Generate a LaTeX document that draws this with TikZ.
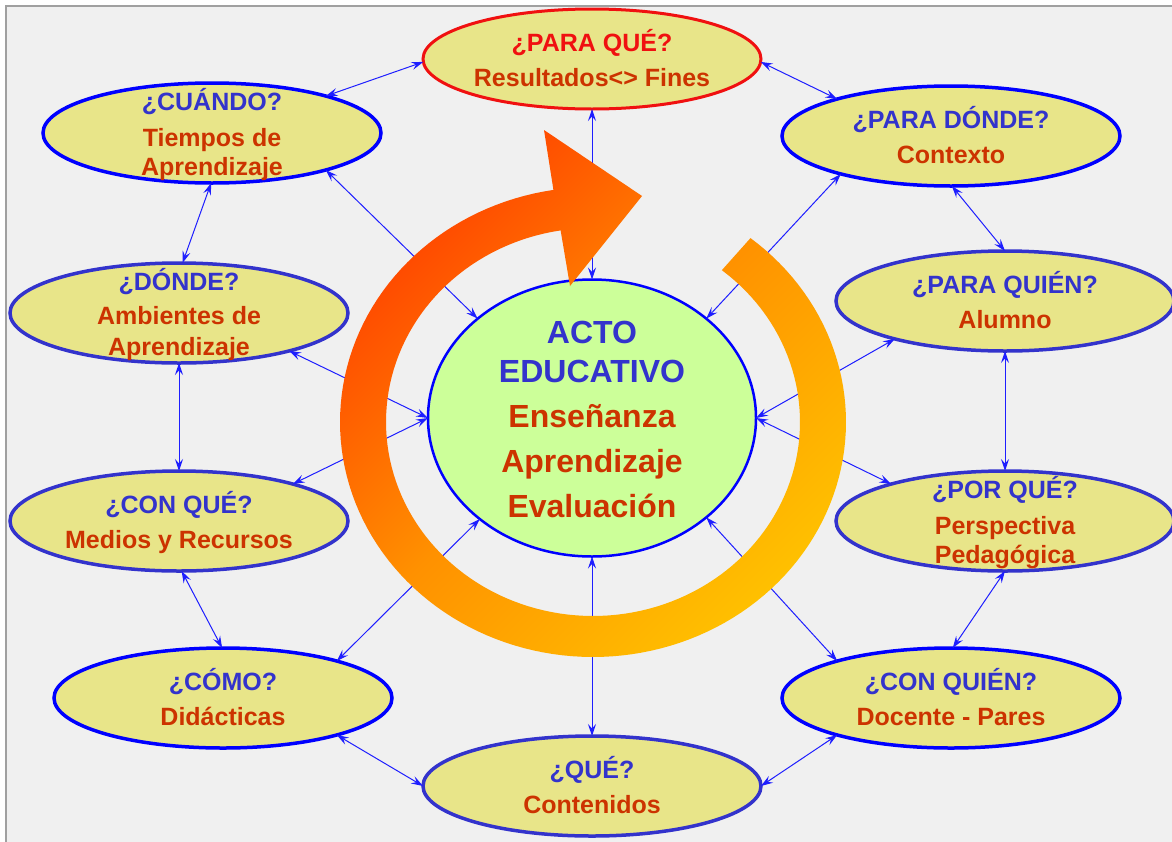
\documentclass[tikz,border=0pt]{standalone}
\usepackage{fontspec}
\setmainfont{Liberation Sans}
\usetikzlibrary{shapes.geometric,arrows.meta}
\definecolor{bgc}{RGB}{240,240,240}
\definecolor{framec}{RGB}{160,160,160}
\definecolor{qcol}{RGB}{51,51,204}
\definecolor{acol}{RGB}{204,51,0}
\definecolor{redq}{RGB}{240,16,16}
\definecolor{bfill}{RGB}{232,229,137}
\definecolor{cfill}{RGB}{204,255,153}
\definecolor{bb}{RGB}{0,0,255}
\definecolor{bp}{RGB}{51,51,204}
\definecolor{linkc}{RGB}{30,30,255}
\definecolor{ra}{RGB}{255,10,0}
\definecolor{rb}{RGB}{255,69,0}
\definecolor{rc}{RGB}{255,100,0}
\definecolor{rd}{RGB}{255,145,0}
\definecolor{re}{RGB}{255,182,0}
\definecolor{rf}{RGB}{255,200,0}
\definecolor{rg}{RGB}{255,215,0}
\pgfdeclarehorizontalshading{ringsh}{100bp}{color(0bp)=(ra); color(26bp)=(rb); color(36bp)=(rc); color(50bp)=(rd); color(70bp)=(re); color(80bp)=(rf); color(100bp)=(rg)}
\newcommand\qtxt[1]{\textcolor{qcol}{#1}}
\newcommand\atxt[1]{\textcolor{acol}{#1}}
\begin{document}
\begin{tikzpicture}[x=1pt,y=-1pt,
  bub/.style={ellipse, fill=bfill, draw=bb, line width=3.5pt, minimum width=338pt, minimum height=100pt,
    inner xsep=0pt, inner ysep=-20pt, outer sep=0pt, align=center, text height=54pt, text depth=0pt,
    font=\bfseries\fontsize{25}{29}\selectfont},
  bubp/.style={bub, draw=bp},
  three/.style={text height=84pt},
  link/.style={draw=linkc, line width=1pt,
    {Stealth[length=12pt,width=8pt,inset=4.5pt]}-{Stealth[length=12pt,width=8pt,inset=4.5pt]}},
]
\useasboundingbox (0,0) rectangle (1172,841);
\fill[white] (0,0) rectangle (1172,841);
\fill[bgc] (6,6) rectangle (1200,900);
\draw[framec, line width=2pt] (6,6) rectangle (1200,900);

% nodes
\node[bub, draw=redq, line width=3pt] (pq) at (592,59) {\textcolor{redq}{¿PARA QUÉ?}\\[6pt]\atxt{Resultados<> Fines}};
\node[bub, three] (cu) at (212,133) {\qtxt{¿CUÁNDO?}\\[7pt]\atxt{Tiempos de}\\\atxt{Aprendizaje}};
\node[bub] (pd) at (951,136) {\qtxt{¿PARA DÓNDE?}\\[6pt]\atxt{Contexto}};
\node[bubp, three] (do) at (179,313) {\qtxt{¿DÓNDE?}\\[5pt]\atxt{Ambientes de}\\[2pt]\atxt{Aprendizaje}};
\node[bubp] (pqn) at (1005,301) {\qtxt{¿PARA QUIÉN?}\\[6pt]\atxt{Alumno}};
\node[bubp] (cq) at (179,521) {\qtxt{¿CON QUÉ?}\\[6pt]\atxt{Medios y Recursos}};
\node[bubp, three] (pzq) at (1005,521) {\qtxt{¿POR QUÉ?}\\[7pt]\atxt{Perspectiva}\\\atxt{Pedagógica}};
\node[bub] (co) at (223,698) {\qtxt{¿CÓMO?}\\[6pt]\atxt{Didácticas}};
\node[bub] (cqn) at (951,698) {\qtxt{¿CON QUIÉN?}\\[6pt]\atxt{Docente - Pares}};
\node[bubp] (qu) at (592,786) {\qtxt{¿QUÉ?}\\[6pt]\atxt{Contenidos}};
\node[ellipse, fill=cfill, draw=bb, line width=2.5pt, minimum width=328pt, minimum height=277pt,
  inner xsep=0pt, inner ysep=-20pt, outer sep=0pt, align=center, text height=198pt, text depth=0pt,
  font=\bfseries\fontsize{32}{39}\selectfont] (ae) at (592,418)
  {\qtxt{ACTO}\\\qtxt{EDUCATIVO}\\[6pt]\atxt{Enseñanza}\\[6pt]\atxt{Aprendizaje}\\[6pt]\atxt{Evaluación}};

% outer ring of links
\draw[link] (pq.181) -- (cu.18);
\draw[link] (pq.-1) -- (pd.162);
\draw[link] (cu.-91) -- (do.86);
\draw[link] (do.-90) -- (cq.90);
\draw[link] (cq.-87) -- (co.91);
\draw[link] (co.-18) -- (qu.180);
\draw[link] (qu.0) -- (cqn.198);
\draw[link] (cqn.88) -- (pzq.-90);
\draw[link] (pzq.90) -- (pqn.-90);
\draw[link] (pqn.90) -- (pd.-89);
% radial links
\draw[link] (ae.90) -- (pq.-90);
\draw[link] (ae.-90) -- (qu.90);
\draw[link] (ae.139) -- (cu.-18);
\draw[link] (ae.180) -- (do.-19);
\draw[link] (ae.180) -- (cq.18);
\draw[link] (ae.222) -- (co.18);
\draw[link] (ae.-41) -- (cqn.162);
\draw[link] (ae.0) -- (pzq.162);
\draw[link] (ae.0) -- (pqn.199);
\draw[link] (ae.41) -- (pd.199);

% circular arrow
\shade[shading=ringsh, shading angle=-45]
  plot[domain=-51.5:261, samples=140] ({593+253*cos(\x)},{422+235*sin(\x)})
  -- (544,130) -- (642,196) -- (570,286)
  -- plot[domain=261:-51.5, samples=140] ({593+207*cos(\x)},{422+194*sin(\x)})
  -- cycle;
\end{tikzpicture}
\end{document}
